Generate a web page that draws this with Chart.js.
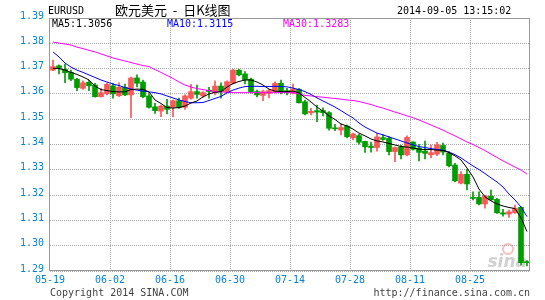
<!DOCTYPE html>
<html>
<head>
<meta charset="utf-8">
<script src="https://cdn.jsdelivr.net/npm/chart.js@4/dist/chart.umd.min.js"></script>
<style>
  html, body { margin: 0; padding: 0; background: #fff; }
  #wrap { width: 545px; height: 300px; }
</style>
</head>
<body>
<div id="wrap"><canvas id="kline" width="545" height="300"></canvas></div>
<script>
// trading days, 2014-05-19 .. 2014-09-05
const dates = [
  "05-19","05-20","05-21","05-22","05-23","05-26","05-27","05-28","05-29","05-30",
  "06-02","06-03","06-04","06-05","06-06","06-09","06-10","06-11","06-12","06-13",
  "06-16","06-17","06-18","06-19","06-20","06-23","06-24","06-25","06-26","06-27",
  "06-30","07-01","07-02","07-03","07-04","07-07","07-08","07-09","07-10","07-11",
  "07-14","07-15","07-16","07-17","07-18","07-21","07-22","07-23","07-24","07-25",
  "07-28","07-29","07-30","07-31","08-01","08-04","08-05","08-06","08-07","08-08",
  "08-11","08-12","08-13","08-14","08-15","08-18","08-19","08-20","08-21","08-22",
  "08-25","08-26","08-27","08-28","08-29","09-01","09-02","09-03","09-04","09-05"
];
const tickLabels = ["05-19","06-02","06-16","06-30","07-14","07-28","08-11","08-25"];
const yTicks = [1.29, 1.30, 1.31, 1.32, 1.33, 1.34, 1.35, 1.36, 1.37, 1.38, 1.39];

const opens = [
  1.3694,1.3711,1.3697,1.3685,1.3658,1.3622,1.3646,1.3635,1.3589,1.3600,
  1.3632,1.3593,1.3626,1.3596,1.3663,1.3647,1.3592,1.3549,1.3532,1.3552,
  1.3547,1.3573,1.3547,1.3583,1.3609,1.3592,1.3615,1.3605,1.3631,1.3609,
  1.3642,1.3694,1.3679,1.3658,1.3609,1.3594,1.3602,1.3609,1.3642,1.3613,
  1.3602,1.3618,1.3569,1.3525,1.3534,1.3534,1.3526,1.3466,1.3457,1.3473,
  1.3426,1.3435,1.3412,1.3394,1.3388,1.3427,1.3424,1.3372,1.3390,1.3359,
  1.3410,1.3386,1.3374,1.3359,1.3362,1.3396,1.3365,1.3319,1.3247,1.3282,
  1.3191,1.3191,1.3165,1.3196,1.3183,1.3130,1.3125,1.3130,1.3152,1.2937
];
const highs = [
  1.3734,1.3715,1.3718,1.3694,1.3662,1.3652,1.3655,1.3642,1.3622,1.3644,
  1.3642,1.3644,1.3639,1.3666,1.3675,1.3655,1.3600,1.3563,1.3556,1.3579,
  1.3576,1.3583,1.3596,1.3638,1.3635,1.3609,1.3626,1.3652,1.3644,1.3652,
  1.3697,1.3697,1.3688,1.3663,1.3615,1.3615,1.3618,1.3648,1.3655,1.3622,
  1.3639,1.3622,1.3576,1.3543,1.3556,1.3545,1.3530,1.3480,1.3481,1.3477,
  1.3445,1.3440,1.3414,1.3410,1.3444,1.3438,1.3431,1.3390,1.3398,1.3434,
  1.3411,1.3401,1.3414,1.3398,1.3409,1.3406,1.3372,1.3326,1.3293,1.3302,
  1.3213,1.3213,1.3200,1.3220,1.3187,1.3144,1.3141,1.3161,1.3154,1.2941
];
const lows = [
  1.3692,1.3679,1.3644,1.3652,1.3613,1.3618,1.3613,1.3587,1.3587,1.3596,
  1.3583,1.3589,1.3593,1.3506,1.3628,1.3585,1.3544,1.3523,1.3510,1.3521,
  1.3510,1.3543,1.3539,1.3579,1.3583,1.3587,1.3583,1.3596,1.3583,1.3605,
  1.3638,1.3671,1.3639,1.3604,1.3588,1.3573,1.3584,1.3604,1.3600,1.3596,
  1.3600,1.3563,1.3517,1.3517,1.3490,1.3513,1.3457,1.3455,1.3438,1.3426,
  1.3418,1.3401,1.3369,1.3370,1.3374,1.3416,1.3359,1.3332,1.3343,1.3355,
  1.3378,1.3335,1.3343,1.3347,1.3356,1.3359,1.3311,1.3253,1.3244,1.3220,
  1.3181,1.3161,1.3148,1.3178,1.3128,1.3117,1.3112,1.3128,1.2924,1.2920
];
const closes = [
  1.3708,1.3701,1.3684,1.3658,1.3625,1.3644,1.3632,1.3589,1.3605,1.3638,
  1.3600,1.3626,1.3596,1.3663,1.3642,1.3589,1.3547,1.3534,1.3552,1.3539,
  1.3573,1.3547,1.3592,1.3609,1.3598,1.3605,1.3609,1.3631,1.3609,1.3648,
  1.3694,1.3675,1.3655,1.3609,1.3596,1.3609,1.3613,1.3642,1.3609,1.3605,
  1.3619,1.3565,1.3521,1.3531,1.3528,1.3526,1.3464,1.3462,1.3467,1.3431,
  1.3442,1.3409,1.3391,1.3388,1.3430,1.3420,1.3372,1.3388,1.3359,1.3428,
  1.3381,1.3369,1.3365,1.3368,1.3399,1.3370,1.3316,1.3256,1.3282,1.3244,
  1.3187,1.3165,1.3196,1.3181,1.3130,1.3125,1.3134,1.3148,1.2933,1.2933
];

const ma5 = [
  1.3701,1.3700,1.3694,1.3685,1.3677,1.3667,1.3655,1.3631,1.3617,1.3613,
  1.3609,1.3608,1.3608,1.3617,1.3619,1.3618,1.3608,1.3576,1.3562,1.3546,
  1.3544,1.3546,1.3552,1.3564,1.3572,1.3588,1.3600,1.3606,1.3609,1.3627,
  1.3641,1.3649,1.3655,1.3655,1.3647,1.3635,1.3619,1.3611,1.3609,1.3609,
  1.3611,1.3604,1.3586,1.3568,1.3548,1.3532,1.3513,1.3499,1.3481,1.3473,
  1.3461,1.3445,1.3434,1.3422,1.3414,1.3410,1.3404,1.3398,1.3392,1.3390,
  1.3386,1.3382,1.3380,1.3380,1.3378,1.3376,1.3368,1.3355,1.3339,1.3307,
  1.3272,1.3224,1.3193,1.3177,1.3165,1.3157,1.3151,1.3147,1.3110,1.3056
];
const ma10 = [
  1.3766,1.3746,1.3722,1.3706,1.3694,1.3685,1.3675,1.3665,1.3655,1.3647,
  1.3639,1.3633,1.3625,1.3619,1.3615,1.3611,1.3608,1.3605,1.3600,1.3592,
  1.3584,1.3576,1.3570,1.3565,1.3565,1.3566,1.3574,1.3582,1.3590,1.3604,
  1.3615,1.3623,1.3629,1.3630,1.3630,1.3629,1.3629,1.3630,1.3629,1.3628,
  1.3623,1.3617,1.3609,1.3598,1.3584,1.3572,1.3560,1.3548,1.3534,1.3519,
  1.3505,1.3485,1.3469,1.3457,1.3445,1.3438,1.3430,1.3422,1.3414,1.3406,
  1.3398,1.3392,1.3388,1.3384,1.3380,1.3378,1.3370,1.3360,1.3347,1.3331,
  1.3315,1.3301,1.3285,1.3268,1.3252,1.3232,1.3204,1.3181,1.3153,1.3115
];
const ma30 = [
  1.3805,1.3801,1.3797,1.3793,1.3785,1.3779,1.3772,1.3766,1.3758,1.3750,
  1.3742,1.3736,1.3730,1.3724,1.3718,1.3712,1.3708,1.3696,1.3685,1.3673,
  1.3661,1.3647,1.3635,1.3627,1.3621,1.3617,1.3613,1.3609,1.3608,1.3606,
  1.3605,1.3605,1.3605,1.3605,1.3605,1.3605,1.3605,1.3605,1.3605,1.3605,
  1.3605,1.3600,1.3594,1.3592,1.3589,1.3587,1.3584,1.3582,1.3579,1.3576,
  1.3574,1.3570,1.3564,1.3558,1.3550,1.3544,1.3536,1.3528,1.3521,1.3513,
  1.3506,1.3497,1.3487,1.3477,1.3467,1.3457,1.3445,1.3434,1.3422,1.3410,
  1.3400,1.3388,1.3376,1.3362,1.3349,1.3335,1.3323,1.3311,1.3299,1.3283
];

const UP = "#f85858";
const DOWN = "#009c00";
const AXIS_BLUE = "#0a82d2";
const MONO = "'DejaVu Sans Mono', monospace";

const candleColors = opens.map((o, i) => (closes[i] >= o ? UP : DOWN));
const wicks = lows.map((l, i) => [l, highs[i]]);
const bodies = opens.map((o, i) => [Math.min(o, closes[i]), Math.max(o, closes[i])]);

const last = (arr) => arr[arr.length - 1].toFixed(4);

// header, legend row, frame, footer, watermark
const decorations = {
  id: "decorations",
  beforeDatasetsDraw(chart) {
    const { ctx, chartArea } = chart;
    ctx.save();
    ctx.font = "italic bold 17px 'DejaVu Sans', sans-serif";
    ctx.fillStyle = "rgba(150,150,150,0.45)";
    ctx.textAlign = "right";
    ctx.textBaseline = "alphabetic";
    ctx.fillText("sina", chartArea.right - 3, chartArea.bottom - 4);
    ctx.strokeStyle = "rgba(240,110,110,0.45)";
    ctx.lineWidth = 2;
    ctx.beginPath();
    ctx.arc(chartArea.right - 22, chartArea.bottom - 22, 5, 0, Math.PI * 2);
    ctx.stroke();
    ctx.restore();
  },
  afterDraw(chart) {
    const { ctx, chartArea } = chart;
    const { left, top, right, bottom } = chartArea;
    ctx.save();
    ctx.strokeStyle = "#999";
    ctx.lineWidth = 1;
    ctx.strokeRect(left - 0.5, top + 0.5, right - left, bottom - top - 1);

    ctx.textBaseline = "middle";
    ctx.textAlign = "left";
    ctx.font = "10px " + MONO;
    ctx.fillStyle = "#000";
    ctx.fillText("EURUSD", 48, 11);
    ctx.fillText("2014-09-05 13:15:02", 397, 11);
    ctx.font = "13px 'Noto Sans CJK SC', sans-serif";
    ctx.fillText("欧元美元  -  日K线图", 115, 10);

    ctx.font = "10px " + MONO;
    ctx.fillStyle = "#000";
    ctx.fillText("MA5:" + last(ma5), 52, 24);
    ctx.fillStyle = "#0000ff";
    ctx.fillText("MA10:" + last(ma10), 167, 24);
    ctx.fillStyle = "#ff00ff";
    ctx.fillText("MA30:" + last(ma30), 283, 24);

    ctx.fillStyle = "#444";
    ctx.fillText("Copyright 2014 SINA.COM", 50, 293);
    ctx.textAlign = "right";
    ctx.fillText("http://finance.sina.com.cn", 530, 293);
    ctx.restore();
  },
};

const maLine = (data, color) => ({
  type: "line",
  data: data,
  borderColor: color,
  borderWidth: 1,
  pointRadius: 0,
  tension: 0,
  order: 0,
});

new Chart(document.getElementById("kline"), {
  type: "bar",
  data: {
    labels: dates,
    datasets: [
      maLine(ma5, "#000000"),
      maLine(ma10, "#0000ff"),
      maLine(ma30, "#ff00ff"),
      {
        data: bodies,
        backgroundColor: candleColors,
        barThickness: 5,
        minBarLength: 1,
        grouped: false,
        order: 1,
      },
      {
        data: wicks,
        backgroundColor: candleColors,
        barThickness: 1,
        grouped: false,
        order: 2,
      },
    ],
  },
  options: {
    responsive: false,
    animation: false,
    layout: {
      padding: { top: 18, right: 15, left: 0, bottom: 0 },
    },
    plugins: {
      legend: { display: false },
      tooltip: { enabled: false },
    },
    scales: {
      x: {
        offset: true,
        grid: {
          offset: true,
          drawTicks: false,
          color: (c) =>
            c.index > 0 && tickLabels.includes(dates[c.index]) ? "#aaa" : "rgba(0,0,0,0)",
        },
        border: { display: false, dash: [1, 1] },
        ticks: {
          autoSkip: false,
          maxRotation: 0,
          minRotation: 0,
          padding: 3,
          labelOffset: -3,
          color: AXIS_BLUE,
          font: { family: MONO, size: 10 },
          callback: function (value, index) {
            return tickLabels.includes(dates[index]) ? dates[index] : "";
          },
        },
        afterFit: (scale) => {
          scale.height = 29;
        },
      },
      y: {
        min: yTicks[0],
        max: yTicks[yTicks.length - 1],
        afterBuildTicks: (scale) => {
          scale.ticks = yTicks.map((v) => ({ value: v }));
        },
        grid: { color: "#aaa", drawTicks: false },
        border: { display: false, dash: [1, 1] },
        ticks: {
          padding: 6,
          labelOffset: -2,
          color: AXIS_BLUE,
          font: { family: MONO, size: 10 },
          callback: (v) => Number(v).toFixed(2),
        },
        afterFit: (scale) => {
          scale.width = 50;
        },
      },
    },
  },
  plugins: [decorations],
});
</script>
</body>
</html>
